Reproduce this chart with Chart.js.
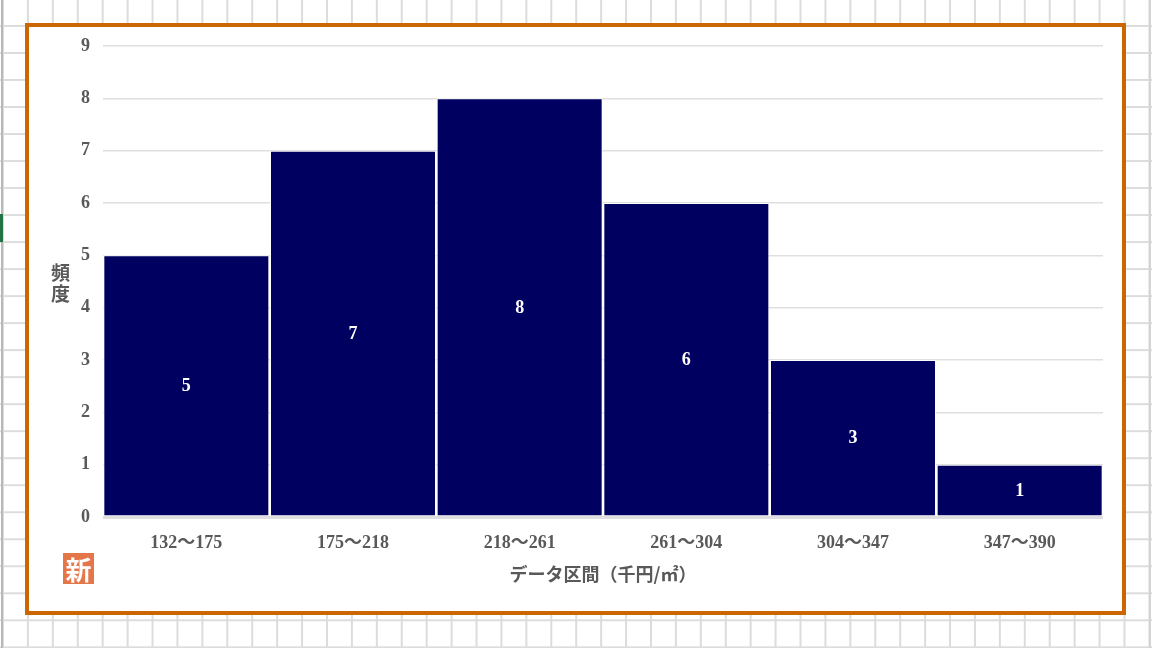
<!DOCTYPE html>
<html>
<head>
<meta charset="utf-8">
<script src="https://cdn.jsdelivr.net/npm/chart.js@4/dist/chart.umd.min.js"></script>
<style>
html, body { margin: 0; padding: 0; }
body {
  width: 1152px; height: 648px; position: relative; overflow: hidden; background-color: #fff;
  background-image:
    linear-gradient(to right, #dcdcdc 0, #dcdcdc 1.5px, transparent 1.5px),
    linear-gradient(to bottom, #dcdcdc 0, #dcdcdc 1.5px, transparent 1.5px);
  background-size: 24.93px 27.02px;
  background-position: 2px 25px;
}
#sidebar { position: absolute; left: 1px; top: 0; width: 2px; height: 648px; background: #b8b8b8; }
#sidebar2 { position: absolute; left: 1149px; top: 0; width: 2px; height: 648px; background: #d4d4d4; }
#tab { position: absolute; left: 0; top: 214px; width: 3px; height: 28px; background: #217346; }
#frame { position: absolute; left: 25px; top: 23px; width: 1093px; height: 584px; background: #fff; border: 4px solid #cc6600; }
canvas { position: absolute; left: 0; top: 0; }
#ytitle { position: absolute; left: 50px; top: 261px; width: 21px; font: bold 19px/21px "Noto Sans CJK JP"; color: #595959; text-align: center; }
#mark { position: absolute; left: 63px; top: 553px; width: 31px; height: 31px; background: #e4764a; color: #fff; font: bold 26px/31px "Noto Sans CJK JP"; text-align: center; }
</style>
</head>
<body>
<div id="sidebar"></div>
<div id="sidebar2"></div>
<div id="tab"></div>
<div id="frame"></div>
<div id="wrap" style="position:absolute;left:0;top:0;width:1152px;height:648px"><canvas id="hist"></canvas></div>
<div id="ytitle">頻<br>度</div>
<div id="mark">新</div>
<script>
const categories = ["132〜175", "175〜218", "218〜261", "261〜304", "304〜347", "347〜390"];
const frequency = [5, 7, 8, 6, 3, 1];
const yTicks = [0, 1, 2, 3, 4, 5, 6, 7, 8, 9];
const xTitle = "データ区間\uFF08千円/㎡\uFF09";

const tickFont = { family: '"Liberation Serif", "Noto Sans CJK JP"', size: 18, weight: 'bold' };

// numbers in the middle of each bar
const barLabels = {
  id: 'barLabels',
  afterDatasetsDraw(chart) {
    const ctx = chart.ctx;
    const meta = chart.getDatasetMeta(0);
    ctx.save();
    ctx.fillStyle = '#ffffff';
    ctx.font = 'bold 18px "Liberation Serif"';
    ctx.textAlign = 'center';
    ctx.textBaseline = 'middle';
    meta.data.forEach(function (bar, i) {
      ctx.fillText(frequency[i], bar.x, (bar.y + bar.base) / 2 + 1);
    });
    ctx.restore();
  }
};

new Chart(document.getElementById("hist"), {
  type: 'bar',
  data: {
    labels: categories,
    datasets: [{
      label: "頻度",
      data: frequency,
      backgroundColor: "#000060",
      borderColor: "#ffffff",
      borderWidth: 1,
      barPercentage: 0.996,
      categoryPercentage: 1
    }]
  },
  plugins: [barLabels],
  options: {
    responsive: true,
    maintainAspectRatio: false,
    animation: false,
    layout: { padding: { top: 46, right: 49, left: 0, bottom: 0 } },
    plugins: { legend: { display: false }, tooltip: { enabled: false } },
    scales: {
      x: {
        afterFit(scale) { scale.height = 131; },
        grid: { display: false },
        border: { display: false },
        ticks: { color: "#595959", font: tickFont, padding: 8, maxRotation: 0 },
        title: {
          display: true,
          text: xTitle,
          color: "#595959",
          font: { family: '"Noto Sans CJK JP"', size: 18, weight: 'bold' },
          padding: { top: 0, bottom: 63 }
        }
      },
      y: {
        min: 0,
        max: 9,
        afterFit(scale) { scale.width = 103; },
        afterBuildTicks(scale) { scale.ticks = yTicks.map(v => ({ value: v })); },
        grid: {
          drawTicks: false,
          color: "#dfdfdf",
          lineWidth: ctx => (ctx.tick && ctx.tick.value === 0 ? 3 : 1.5)
        },
        border: { display: false },
        ticks: { color: "#595959", font: tickFont, padding: 13 }
      }
    }
  }
});
</script>
</body>
</html>
